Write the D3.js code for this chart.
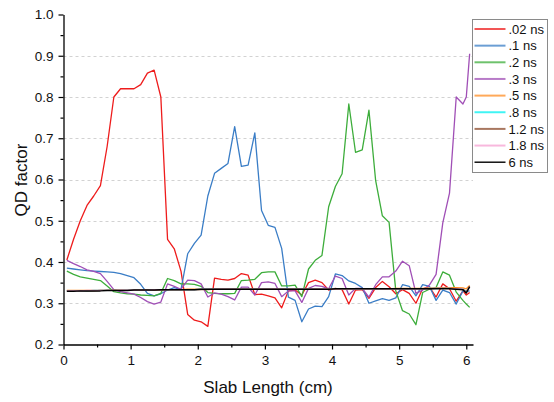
<!DOCTYPE html>
<html><head><meta charset="utf-8">
<script src="https://cdn.jsdelivr.net/npm/d3@7"></script>
<style>body{margin:0;background:#fff}svg{display:block}text{font-family:"Liberation Sans",Arial,sans-serif}</style>
</head><body>
<script>
const xs = [0.05,0.15,0.25,0.35,0.45,0.55,0.65,0.75,0.85,0.95,
  1.05,1.15,1.25,1.35,1.45,1.55,1.65,1.75,1.85,1.95,
  2.05,2.15,2.25,2.35,2.45,2.55,2.65,2.75,2.85,2.95,
  3.05,3.15,3.25,3.35,3.45,3.55,3.65,3.75,3.85,3.95,
  4.05,4.15,4.25,4.35,4.45,4.55,4.65,4.75,4.85,4.95,
  5.05,5.15,5.25,5.35,5.45,5.55,5.65,5.75,5.85,5.95,6.0,6.05];
const qd002 = [.405,.455,.50,.537,.56,.585,.68,.80,.82,.82,
  .82,.83,.858,.865,.80,.455,.432,.378,.273,.259,
  .255,.244,.361,.358,.356,.36,.372,.368,.321,.322,
  .318,.313,.289,.33,.332,.32,.35,.356,.35,.332,
  .336,.333,.298,.332,.333,.312,.338,.353,.34,.323,
  .333,.324,.30,.335,.34,.315,.347,.335,.305,.33,.32,.326];
const qd01 = [.385,.383,.381,.379,.378,.377,.376,.375,.372,.367,
  .362,.346,.324,.318,.323,.332,.338,.333,.42,.445,
  .465,.56,.615,.627,.639,.728,.632,.635,.713,.525,
  .489,.484,.433,.315,.307,.255,.286,.293,.292,.316,
  .371,.367,.354,.348,.338,.30,.306,.311,.307,.313,
  .345,.341,.318,.345,.341,.307,.332,.326,.298,.33,.328,.33];
const qd02 = [.378,.370,.364,.361,.358,.355,.342,.328,.325,.323,
  .322,.320,.319,.318,.324,.36,.355,.347,.347,.346,
  .341,.326,.324,.323,.323,.324,.355,.356,.358,.374,
  .376,.376,.342,.342,.344,.316,.383,.404,.416,.534,
  .583,.614,.783,.666,.672,.768,.597,.512,.496,.33,
  .282,.274,.248,.326,.334,.338,.376,.368,.327,.307,.298,.29];
const qd03 = [.404,.396,.389,.381,.377,.372,.353,.333,.328,.325,
  .322,.314,.304,.298,.303,.347,.341,.334,.356,.355,
  .347,.315,.325,.322,.316,.308,.339,.339,.32,.35,
  .352,.348,.316,.330,.330,.302,.336,.343,.341,.335,
  .366,.360,.320,.336,.336,.315,.345,.364,.364,.378,
  .402,.391,.324,.332,.344,.370,.495,.567,.80,.783,.80,.905];
const qd05 = [.331,.331,.331,.331,.331,.331,.331,.332,.332,.332,
  .332,.332,.333,.333,.333,.333,.333,.333,.334,.334,
  .334,.334,.334,.334,.334,.334,.334,.334,.334,.334,
  .334,.334,.334,.334,.334,.334,.335,.335,.335,.335,
  .335,.335,.335,.335,.335,.335,.335,.335,.335,.336,
  .336,.336,.336,.336,.337,.337,.338,.338,.338,.337,.335,.343];
const qd08 = [.330,.330,.330,.330,.331,.331,.331,.331,.331,.332,
  .332,.332,.332,.333,.333,.333,.333,.333,.333,.333,
  .334,.334,.334,.334,.334,.334,.334,.334,.334,.334,
  .334,.334,.334,.334,.334,.334,.334,.334,.334,.334,
  .335,.335,.335,.335,.335,.335,.335,.335,.335,.335,
  .335,.335,.335,.335,.336,.336,.336,.336,.335,.334,.328,.34];
const qd12 = [.330,.330,.330,.330,.330,.331,.331,.331,.331,.331,
  .332,.332,.332,.332,.332,.333,.333,.333,.333,.333,
  .333,.333,.334,.334,.334,.334,.334,.334,.334,.334,
  .334,.334,.334,.334,.334,.334,.334,.334,.334,.334,
  .334,.335,.335,.335,.335,.335,.335,.335,.335,.335,
  .335,.335,.335,.335,.335,.336,.336,.336,.335,.334,.327,.341];
const qd18 = [.330,.330,.330,.331,.331,.331,.331,.331,.332,.332,
  .332,.332,.332,.333,.333,.333,.333,.333,.333,.333,
  .334,.334,.334,.334,.334,.334,.334,.334,.334,.334,
  .334,.334,.334,.334,.334,.334,.334,.334,.334,.334,
  .335,.335,.335,.335,.335,.335,.335,.335,.335,.335,
  .335,.335,.335,.335,.336,.336,.336,.336,.335,.334,.326,.34];
const qd6 = [.329,.329,.330,.330,.330,.330,.331,.331,.331,.331,
  .332,.332,.332,.332,.333,.333,.333,.333,.333,.333,
  .334,.334,.334,.334,.334,.334,.334,.334,.334,.334,
  .334,.334,.334,.334,.334,.334,.334,.334,.334,.334,
  .335,.335,.335,.335,.335,.335,.335,.335,.335,.335,
  .335,.335,.335,.335,.335,.335,.335,.335,.334,.333,.325,.34];
const seriesNames = [".02 ns", ".1 ns", ".2 ns", ".3 ns", ".5 ns", ".8 ns", "1.2 ns", "1.8 ns", "6 ns"];
const seriesValues = [qd002, qd01, qd02, qd03, qd05, qd08, qd12, qd18, qd6];
const seriesColors = ["#ee1c1c", "#3a7dc6", "#3dad3b", "#a04fb6", "#ff8c22", "#00f0f0", "#8b4a2b", "#f6a0d2", "#000000"];
const xTicks = [0,1,2,3,4,5,6];
const xMinor = [0.5,1.5,2.5,3.5,4.5,5.5];
const yTicks = [0.2,0.3,0.4,0.5,0.6,0.7,0.8,0.9,1.0];
const yMinor = [0.25,0.35,0.45,0.55,0.65,0.75,0.85,0.95];
const gridVals = [0.3,0.4,0.5,0.6,0.7,0.8,0.9];

const W = 554, H = 402;
const svg = d3.select("body").append("svg").attr("width", W).attr("height", H);
svg.append("rect").attr("width", W).attr("height", H).attr("fill", "#fff");

const x = d3.scaleLinear().domain([0, 6.1]).range([63.5, 473]);
const y = d3.scaleLinear().domain([0.2, 1.0]).range([344.5, 14.5]);

// grid
svg.append("g").selectAll("line").data(gridVals).join("line")
  .attr("x1", x(0)).attr("x2", x(6.1))
  .attr("y1", d => Math.round(y(d)) + 0.5).attr("y2", d => Math.round(y(d)) + 0.5)
  .attr("stroke", "#d2d2d2").attr("stroke-width", 1).attr("stroke-dasharray", "3,3");

// lines
const line = d3.line().x((d, i) => x(xs[i])).y(d => y(d));
const lg = svg.append("g");
seriesValues.forEach((vals, k) => {
  lg.append("path").datum(vals).attr("d", line)
    .attr("fill", "none").attr("stroke", seriesColors[k])
    .attr("stroke-width", k === 8 ? 1.5 : 1.3).attr("stroke-linejoin", "round");
});

// axes
const fontSize = 13.5;
const xAxis = svg.append("g").attr("transform", `translate(0,${y(0.2)})`)
  .call(d3.axisBottom(x).tickValues(xTicks).tickFormat(d3.format("d")).tickSize(5).tickSizeOuter(0).tickPadding(6));
const xMin = svg.append("g").attr("transform", `translate(0,${y(0.2)})`)
  .call(d3.axisBottom(x).tickValues(xMinor).tickFormat("").tickSize(3).tickSizeOuter(0));
xMin.select(".domain").remove();
const yAxis = svg.append("g").attr("transform", `translate(${x(0)},0)`)
  .call(d3.axisLeft(y).tickValues(yTicks).tickFormat(d3.format(".1f")).tickSize(5).tickSizeOuter(0).tickPadding(5));
const yMin = svg.append("g").attr("transform", `translate(${x(0)},0)`)
  .call(d3.axisLeft(y).tickValues(yMinor).tickFormat("").tickSize(3).tickSizeOuter(0));
yMin.select(".domain").remove();
svg.selectAll(".domain").attr("stroke", "#000").attr("stroke-width", 1.3);
svg.selectAll(".tick line").attr("stroke", "#000").attr("stroke-width", 1.2);
svg.selectAll(".tick text").attr("font-family", "Liberation Sans, Arial, sans-serif").attr("font-size", fontSize).attr("fill", "#111");

// titles
svg.append("text").attr("x", 268).attr("y", 393).attr("text-anchor", "middle")
  .attr("font-size", 17).attr("fill", "#111").text("Slab Length (cm)");
svg.append("text").attr("transform", "translate(27,180) rotate(-90)").attr("text-anchor", "middle")
  .attr("font-size", 17).attr("fill", "#111").text("QD factor");

// legend
const leg = svg.append("g");
leg.append("rect").attr("x", 472.5).attr("y", 19.5).attr("width", 75).attr("height", 153)
  .attr("fill", "#fff").attr("stroke", "#8a8a8a").attr("stroke-width", 1);
seriesNames.forEach((n, k) => {
  const yy = 29 + k * 16.65;
  leg.append("line").attr("x1", 474.5).attr("x2", 505.5).attr("y1", yy).attr("y2", yy)
    .attr("stroke", seriesColors[k]).attr("stroke-width", k === 8 ? 1.4 : 2).attr("stroke-opacity", k === 8 ? 1 : 0.75);
  leg.append("text").attr("x", 508.5).attr("y", yy + 4.6).attr("font-size", 13).attr("fill", "#111").text(n);
});
</script>
</body></html>
